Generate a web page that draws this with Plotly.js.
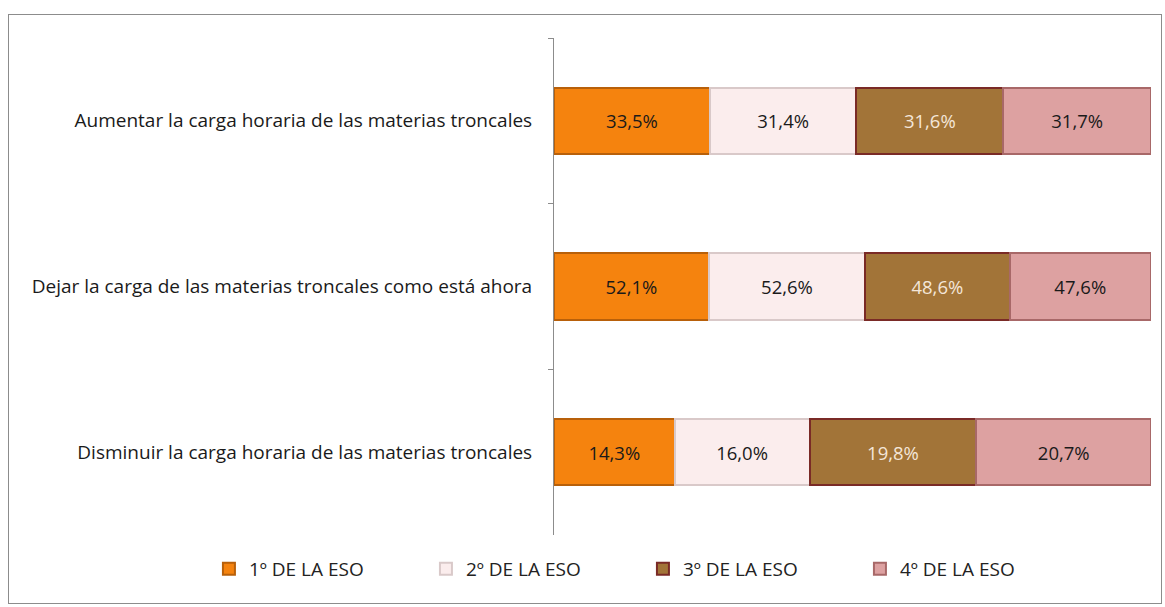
<!DOCTYPE html>
<html><head><meta charset="utf-8">
<script src="https://cdn.plot.ly/plotly-3.0.1.min.js"></script>
<style>
html,body{margin:0;padding:0;background:#fff;}
#frame{position:absolute;left:8px;top:14px;width:1154px;height:590px;border:1px solid #8c8c8c;box-sizing:border-box;background:#fff;}
#chart{width:1152px;height:588px;}
</style></head>
<body><div id="frame"><div id="chart"></div></div>
<script>
const categories = [
  "Aumentar la carga horaria de las materias troncales",
  "Dejar la carga de las materias troncales como está ahora",
  "Disminuir la carga horaria de las materias troncales"
];
const seriesNames = ["1º DE LA ESO", "2º DE LA ESO", "3º DE LA ESO", "4º DE LA ESO"];
const eso1 = [33.5, 52.1, 14.3];
const eso2 = [31.4, 52.6, 16.0];
const eso3 = [31.6, 48.6, 19.8];
const eso4 = [31.7, 47.6, 20.7];

const values = [eso1, eso2, eso3, eso4];
const fills = ["#F5830E", "#FBEDED", "#A27438", "#DDA1A1"];
const edges = ["#B8600A", "#D9C9C9", "#7A2A26", "#A86868"];
const textCols = ["#1a1a1a", "#1a1a1a", "#F4E6D8", "#1a1a1a"];
const fmt = v => v.toFixed(1).replace('.', ',') + '%';

const traces = values.map((vals, i) => ({
  type: 'bar',
  orientation: 'h',
  name: seriesNames[i],
  y: categories,
  x: vals,
  text: vals.map(fmt),
  textposition: 'inside',
  insidetextanchor: 'middle',
  textangle: 0,
  constraintext: 'none',
  textfont: {family: 'Open Sans, sans-serif', size: 18.5, color: textCols[i]},
  marker: {color: fills[i], line: {color: edges[i], width: 2}},
  hoverinfo: 'skip'
}));

const layout = {
  width: 1152, height: 588,
  margin: {l: 545, r: 10, t: 23, b: 68},
  barmode: 'stack',
  barnorm: 'percent',
  bargap: 0.6,
  paper_bgcolor: 'rgba(0,0,0,0)',
  plot_bgcolor: 'rgba(0,0,0,0)',
  font: {family: 'Open Sans, sans-serif', size: 15, color: '#222'},
  xaxis: {range: [0, 100], visible: false, fixedrange: true},
  yaxis: {
    autorange: 'reversed',
    showline: true, linecolor: '#8c8c8c', linewidth: 1,
    ticks: 'outside', tickson: 'boundaries', ticklen: 5, tickcolor: '#8c8c8c',
    showgrid: false, ticklabelstandoff: 17,
    tickfont: {family: 'Open Sans, sans-serif', size: 19, color: '#1a1a1a'}
  },
  showlegend: true,
  legend: {
    orientation: 'h', x: -0.578, xanchor: 'left', y: -0.03, yanchor: 'top',
    traceorder: 'normal', entrywidth: 172, itemwidth: 30,
    font: {family: 'Open Sans, sans-serif', size: 19, color: '#222'}
  }
};
Plotly.newPlot('chart', traces, layout, {displayModeBar: false, staticPlot: true});
</script></body></html>
